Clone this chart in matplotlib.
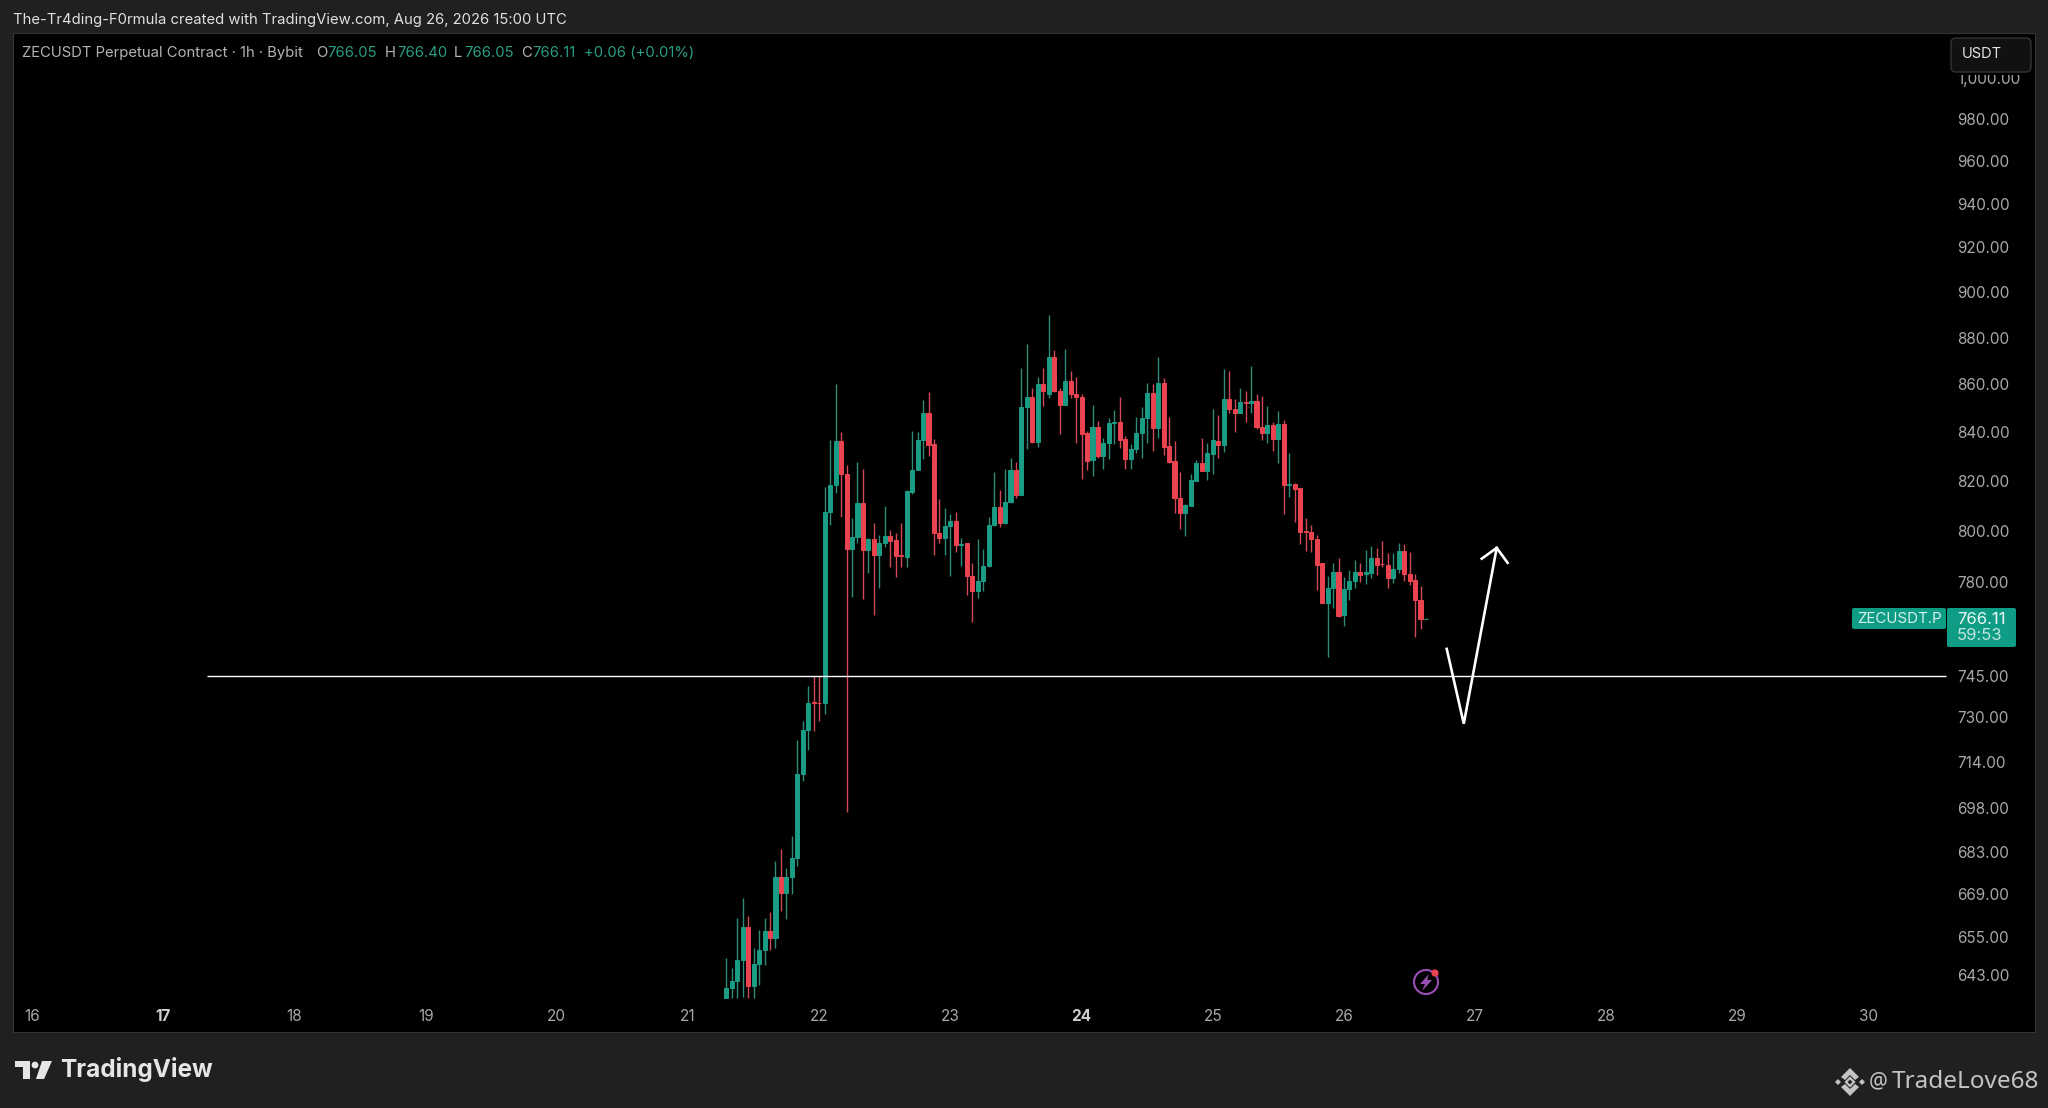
import numpy as np
import matplotlib
matplotlib.use('Agg')
import matplotlib.pyplot as plt
from matplotlib.patches import Polygon, Circle, FancyBboxPatch, Rectangle
from matplotlib.ticker import NullLocator

# hourly candles of ZECUSDT, first one is the 21st at 07:00
first_day = 21
first_hour = 7

opens = [635.7,638.9,641.1,647.7,658.4,639.5,646.5,650.9,657.1,654.8,674.8,669.5,674.8,681.1,709.7,725.5,735.3,735.2,735.1,807.4,818.5,
 836.3,822.9,793.0,797.7,811.2,792.6,797.0,790.7,795.4,798.1,796.6,790.7,790.0,815.6,824.5,836.8,848.0,835.1,799.3,797.4,802.1,804.1,
 794.6,795.2,782.6,776.9,780.7,786.5,802.5,809.6,803.3,811.6,824.5,814.4,850.5,854.7,835.9,860.2,856.0,871.6,857.2,851.3,861.5,856.0,
 854.7,839.7,828.5,842.2,830.2,835.5,843.9,844.3,837.2,829.0,833.0,839.7,845.9,856.4,841.8,860.6,834.3,828.1,813.2,807.3,810.0,819.9,
 827.3,824.1,831.0,836.3,834.7,853.8,849.6,848.0,852.6,852.0,853.0,842.2,839.7,843.0,837.2,843.4,818.5,818.9,817.2,799.9,799.7,797.0,
 787.6,772.3,778.0,784.2,767.7,777.6,780.7,784.2,783.4,783.8,789.5,787.3,786.8,781.8,785.3,792.2,783.4,781.0,773.4,766.05]
highs = [648.4,645.2,661.3,667.9,662.0,651.6,657.4,661.3,663.0,680.1,684.1,677.8,688.6,721.9,728.4,741.3,745.0,745.0,817.6,836.8,860.2,
 840.1,826.5,805.3,827.7,824.9,797.4,803.3,798.5,810.0,800.5,799.3,803.3,816.4,840.5,840.1,853.4,856.8,837.2,812.8,809.2,806.9,807.6,
 797.4,795.4,787.6,797.0,793.0,805.7,823.7,816.4,824.9,829.3,827.7,867.0,877.2,858.5,863.2,867.0,889.9,874.6,858.5,875.0,865.7,863.2,
 856.0,840.5,851.3,844.7,837.6,845.9,849.2,854.7,838.5,835.1,846.3,850.5,860.6,860.2,871.6,862.7,846.3,836.3,823.7,810.8,822.9,828.5,
 837.6,835.5,849.6,847.1,866.5,865.7,853.8,858.5,857.2,867.8,856.0,855.1,850.9,844.3,848.8,845.0,831.4,819.0,817.2,805.3,802.5,798.5,
 787.6,782.6,787.6,789.5,782.2,785.0,788.8,787.6,792.6,794.2,793.4,796.2,791.4,791.4,795.4,795.0,791.8,783.4,778.8,766.40]
lows = [635.7,635.7,635.7,636.0,635.7,635.7,639.8,646.2,650.9,651.6,663.6,661.0,669.2,678.2,707.4,718.3,725.1,728.7,731.2,802.5,815.2,
 805.7,696.7,774.6,795.4,773.8,783.8,767.7,778.0,793.8,786.1,782.2,786.1,786.1,814.8,824.5,829.0,830.2,790.7,795.4,790.7,782.6,791.8,
 786.5,775.3,765.0,774.2,776.9,786.1,802.1,801.7,802.9,811.2,813.2,814.4,833.0,835.5,833.8,850.9,854.2,856.8,839.3,851.3,854.2,835.5,
 820.9,824.5,822.1,829.3,824.9,829.0,835.1,833.4,824.9,824.9,831.4,829.3,835.5,832.2,837.6,830.6,827.3,807.3,800.9,798.1,810.0,819.9,
 824.1,820.3,822.9,829.3,831.8,848.0,840.1,848.0,844.3,848.0,841.4,836.8,835.5,832.2,827.3,806.9,813.6,803.7,795.0,792.2,791.8,777.2,
 772.3,751.9,770.4,767.0,763.6,773.4,778.0,780.3,779.5,781.8,783.0,786.1,778.0,779.9,783.8,780.7,779.2,759.4,762.4,766.05]
closes = [638.9,641.1,647.7,658.4,639.5,646.5,650.9,657.1,654.8,674.8,669.5,674.8,681.1,709.9,725.5,735.1,735.0,734.9,807.6,818.5,836.3,
 822.9,793.0,797.7,811.2,792.6,797.0,790.7,795.4,798.1,796.2,790.3,790.4,816.0,824.5,836.8,848.0,834.7,799.3,797.4,802.1,804.1,794.6,
 795.0,782.6,776.9,780.7,786.5,802.5,809.6,803.3,811.6,824.5,814.4,850.5,854.7,835.9,860.2,857.0,871.6,857.0,851.3,861.5,856.0,854.7,
 839.3,828.1,842.2,830.2,835.5,843.9,844.3,836.8,829.0,833.0,839.7,845.9,856.4,841.8,860.6,833.8,827.7,813.2,807.3,810.4,820.3,827.3,
 824.1,831.4,836.8,834.7,853.8,849.6,848.0,852.6,852.2,853.0,842.2,839.7,843.0,837.2,843.4,818.5,818.9,816.8,799.7,799.5,797.0,786.8,
 772.3,778.0,784.2,767.4,777.6,780.7,784.2,783.0,783.9,789.5,786.8,787.0,781.8,785.3,792.2,783.4,780.7,773.4,766.1,766.11]

# drawing on the chart
level_price = 745.0
level_days = [17.33, 30.59]
arrow_days = [26.783, 26.913, 27.164]
arrow_prices = [754.9, 727.6, 793.4]
head_days = [27.05, 27.164, 27.247]
head_prices = [789.2, 793.4, 787.6]

price_ticks = [643, 655, 669, 683, 698, 714, 730, 745, 780, 800, 820, 840, 860, 880, 900, 920, 940, 960, 980, 1000]
price_labels = ['643.00', '655.00', '669.00', '683.00', '698.00', '714.00', '730.00', '745.00', '780.00', '800.00',
                '820.00', '840.00', '860.00', '880.00', '900.00', '920.00', '940.00', '960.00', '980.00', '1,000.00']
day_ticks = list(range(16, 31))
bold_days = [17, 24]

BG = '#202020'
GREEN = '#1a9c85'
RED = '#ec4350'
GREEN_WICK = '#2f8a78'
RED_WICK = '#cf4a56'
TICK = '#a8a8a8'
FONT = 'Inter'

W, H = 2048, 1108
fig = plt.figure(figsize=(W / 100, H / 100), dpi=100, facecolor=BG)

# chart pane, price scale is drawn inside it like on the site
ax = fig.add_axes([13 / W, 1 - 1032 / H, (2035 - 13) / W, (1032 - 33) / H], facecolor='black')
ax.set_yscale('log')
ax.set_xlim(15.855, 31.267)
ax.set_ylim(625.1, 1022.4)

o = np.array(opens)
c = np.array(closes)
times = first_day + (first_hour + np.arange(len(o))) / 24
up = c >= o
body_col = np.where(up, GREEN, RED)
wick_col = np.where(up, GREEN_WICK, RED_WICK)
ax.vlines(times, lows, highs, colors=list(wick_col), linewidth=1.0, zorder=2)
ax.bar(times, np.abs(c - o), bottom=np.minimum(o, c), width=0.031, color=list(body_col),
       edgecolor=list(body_col), linewidth=0.7, zorder=3)

ax.hlines(level_price, level_days[0], level_days[1], color='white', linewidth=1.0, zorder=4)
ax.plot(arrow_days, arrow_prices, color='white', linewidth=1.9, solid_joinstyle='miter', zorder=5)
ax.plot(head_days, head_prices, color='white', linewidth=1.9, solid_joinstyle='miter', zorder=5)

ax.yaxis.tick_right()
ax.set_yticks(price_ticks)
ax.set_yticklabels(price_labels)
ax.yaxis.set_minor_locator(NullLocator())
ax.tick_params(axis='y', length=0, pad=-56.2, labelcolor=TICK, labelsize=11)
ax.set_xticks(day_ticks)
ax.set_xticklabels([str(d) for d in day_ticks])
ax.tick_params(axis='x', length=0, pad=-16.6, labelcolor=TICK, labelsize=11)
for lab, d in zip(ax.get_xticklabels(), day_ticks):
    if d in bold_days:
        lab.set_fontweight('bold')
        lab.set_color('#d0d0d0')
for lab in ax.get_xticklabels() + ax.get_yticklabels():
    lab.set_fontfamily(FONT)
for s in ax.spines.values():
    s.set_color('#333333')
    s.set_linewidth(0.8)

# overlay in pixel coordinates for labels, tags and logos
ov = fig.add_axes([0, 0, 1, 1], facecolor='none')
ov.set_xlim(0, W)
ov.set_ylim(H, 0)
ov.axis('off')


def label(x, y, s, color='#d8d8d8', size=10.7, ha='left', **kw):
    ov.text(x, y, s, color=color, fontsize=size, ha=ha, va='center', family=kw.pop('family', FONT), **kw)


label(13, 20, 'The-Tr4ding-F0rmula created with TradingView.com, Aug 26, 2026 15:00 UTC', color='#e0e0e0')

LEG = '#b4b4b4'
VAL = '#2a9d84'
label(22, 53, 'ZECUSDT Perpetual Contract · 1h · Bybit', color=LEG)
for x, s in [(316, 'O'), (385, 'H'), (454, 'L'), (521, 'C')]:
    label(x, 53, s, color=LEG)
for x, s in [(327, '766.05'), (397, '766.40'), (464, '766.05'), (532, '766.11'), (584, '+0.06 (+0.01%)')]:
    label(x, 53, s, color=VAL)

# currency button, hides the top half of the 1,000 label
ov.add_patch(Rectangle((1949, 72), 84, 3, fc='black', ec='none'))
ov.add_patch(FancyBboxPatch((1953, 40), 76, 30, boxstyle='round,pad=2,rounding_size=5', fc='#111111', ec='#333333', lw=1))
label(1962, 54, 'USDT', color='#e4e4e4', size=10.5)

# last price tag
TAG = '#0f9c85'
ov.add_patch(FancyBboxPatch((1853, 609), 92, 19, boxstyle='round,pad=1,rounding_size=2', fc=TAG, ec='none'))
ov.add_patch(FancyBboxPatch((1948, 609), 67, 37, boxstyle='round,pad=1,rounding_size=2', fc=TAG, ec='none'))
label(1899, 619, 'ZECUSDT.P', color='#d8f2ec', size=10.8, ha='center')
label(1957, 619, '766.11', color='#eaf7f4', size=12)
label(1957, 636, '59:53', color='#bfe6dd', size=12)

# lightning badge
PURPLE = '#9a4fb4'
ov.add_patch(Circle((1426, 982), 12, fc='none', ec=PURPLE, lw=1.5))
ov.add_patch(Polygon([(1429, 974), (1420, 984), (1425, 984), (1422, 991), (1432, 980), (1427, 980)], fc=PURPLE, ec='none'))
ov.add_patch(Circle((1435, 973), 3.6, fc='#ef4350', ec='none'))

# TradingView logo
LOGO = '#e6e6e6'
ov.add_patch(Polygon([(15, 1061), (30, 1061), (30, 1079), (23, 1079), (23, 1067), (15, 1067)], fc=LOGO, ec='none'))
ov.add_patch(Circle((35, 1065), 3.4, fc=LOGO, ec='none'))
ov.add_patch(Polygon([(42, 1061), (52, 1061), (44, 1079), (36, 1079)], fc=LOGO, ec='none'))
label(60, 1070, 'TradingView', color=LOGO, size=17.5, weight='bold')

# watermark
WM = '#c4c4c4'
cx, cy = 1850, 1082
for dx, dy, r in [(-12, 0, 3), (12, 0, 3)]:
    ov.add_patch(Polygon([(cx + dx - r, cy), (cx + dx, cy - r), (cx + dx + r, cy), (cx + dx, cy + r)], fc=WM, ec='none'))
ov.add_patch(Polygon([(cx - 4, cy), (cx, cy - 4), (cx + 4, cy), (cx, cy + 4)], fc='none', ec=WM, lw=1.6))
ov.add_patch(Polygon([(cx - 9, cy - 5), (cx, cy - 14), (cx + 9, cy - 5), (cx + 5, cy - 2), (cx, cy - 7), (cx - 5, cy - 2)], fc=WM, ec='none'))
ov.add_patch(Polygon([(cx - 9, cy + 5), (cx, cy + 14), (cx + 9, cy + 5), (cx + 5, cy + 2), (cx, cy + 7), (cx - 5, cy + 2)], fc=WM, ec='none'))
label(1869, 1082, '@', color=WM, size=15, family='Noto Sans')
label(1892, 1082, 'TradeLove68', color=WM, size=17.5, family='Noto Sans')

fig.savefig('out.png', dpi=100, facecolor=BG)
